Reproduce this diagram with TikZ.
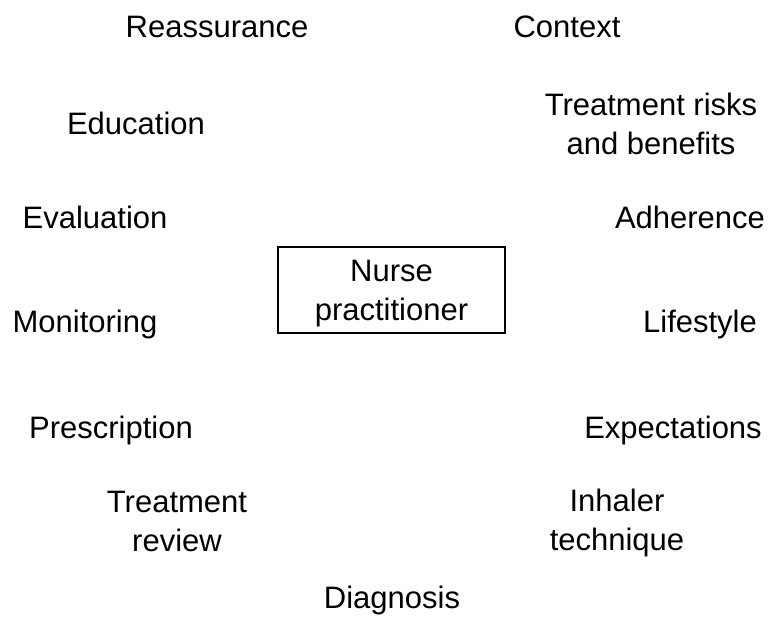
\documentclass[tikz,border=0pt]{standalone}
\usepackage{fontspec}
\setmainfont{Liberation Sans}

\begin{document}
\begin{tikzpicture}[x=1pt, y=-1pt,
  lbl/.style={align=center, inner sep=0pt, font=\fontsize{31}{39}\selectfont},
  frame/.style={draw, line width=1.3pt, minimum width=227pt, minimum height=86pt}]
  \useasboundingbox (0,0) rectangle (780,628);

  \node[frame] (np) at (391.5,290) {};
  \node[lbl] (nptext) at (391.5,294) {Nurse\\practitioner};

  \node[lbl] (reass) at (217,27) {Reassurance};
  \node[lbl] (educ)  at (136,123) {Education};
  \node[lbl] (evalu) at (95,217) {Evaluation};
  \node[lbl] (monit) at (85,324) {Monitoring};
  \node[lbl] (presc) at (111,430) {Prescription};
  \node[lbl] (treat) at (177,521) {Treatment\\review};
  \node[lbl] (diagn) at (392,600) {Diagnosis};

  \node[lbl] (cntxt) at (567,27) {Context};
  \node[lbl] (risks) at (651,124) {Treatment risks\\and benefits};
  \node[lbl] (adher) at (690,217) {Adherence};
  \node[lbl] (lifes) at (700,324) {Lifestyle};
  \node[lbl] (expec) at (673,430) {Expectations};
  \node[lbl] (inhal) at (617,523) {Inhaler\\technique};
\end{tikzpicture}
\end{document}
